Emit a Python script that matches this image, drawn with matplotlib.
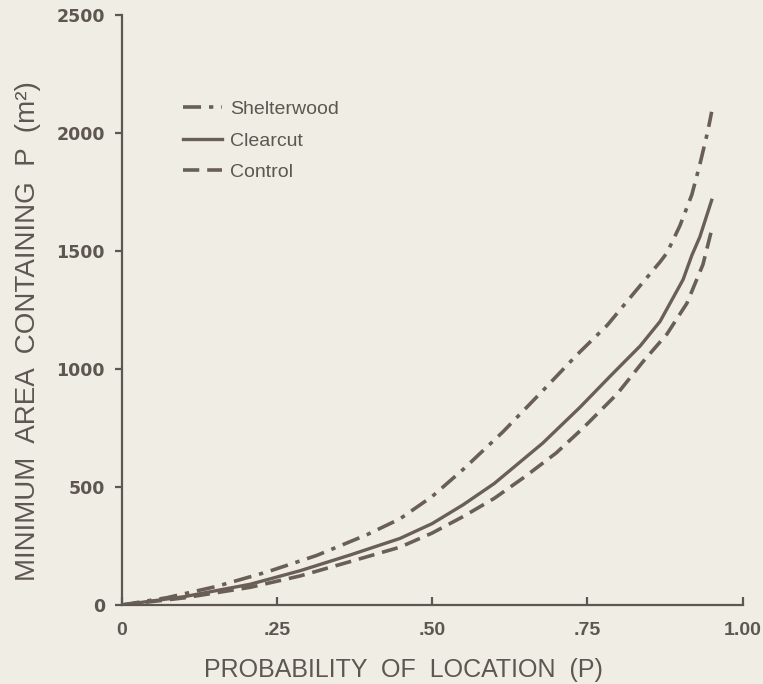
#!/usr/bin/env python3
"""
Minimum area containing P vs probability of location,
for shelterwood, clearcut and control sites.
Saves: out.png
"""

import matplotlib
matplotlib.use("Agg")
import matplotlib.pyplot as plt

# ── data ──────────────────────────────────────────────────────────────────
P_SHELTER = [0, 0.073, 0.153, 0.234, 0.314, 0.395, 0.448, 0.50, 0.55, 0.614,
             0.678, 0.733, 0.782, 0.823, 0.867, 0.878, 0.899, 0.918, 0.931,
             0.944, 0.95]
A_SHELTER = [0, 31, 79, 140, 210, 298, 365, 460, 575, 734,
             908, 1060, 1186, 1316, 1454, 1492, 1608, 1738, 1867,
             2010, 2090]

P_CLEAR = [0, 0.10, 0.207, 0.287, 0.368, 0.448, 0.50, 0.55, 0.60, 0.678,
           0.738, 0.786, 0.835, 0.867, 0.904, 0.918, 0.931, 0.95]
A_CLEAR = [0, 35, 88, 145, 212, 282, 345, 425, 515, 686,
           838, 968, 1098, 1202, 1379, 1481, 1560, 1715]

P_CONTROL = [0, 0.10, 0.207, 0.287, 0.368, 0.448, 0.50, 0.55, 0.60, 0.65,
             0.70, 0.743, 0.798, 0.840, 0.878, 0.910, 0.936, 0.95]
A_CONTROL = [0, 30, 75, 123, 184, 245, 305, 375, 452, 545,
             645, 750, 895, 1033, 1148, 1278, 1443, 1590]

X_TICKS = [0, 0.25, 0.50, 0.75, 1.00]
X_TICK_LABELS = ["0", ".25", ".50", ".75", "1.00"]
Y_TICKS = [0, 500, 1000, 1500, 2000, 2500]

BG_COLOR   = "#f0eee4"
INK        = "#5e5650"
LINE_COLOR = "#6a5f56"
FONT       = "Liberation Sans"

plt.rcParams["font.family"] = [FONT, "DejaVu Sans"]

fig = plt.figure(figsize=(7.63, 6.84), dpi=100, facecolor=BG_COLOR)
ax = fig.add_axes([0.1595, 0.1155, 0.8139, 0.8625])
ax.set_facecolor(BG_COLOR)

ax.plot(P_SHELTER, A_SHELTER, color=LINE_COLOR, linewidth=2.6,
        dashes=(5, 2.2, 1.2, 2.2), label="Shelterwood")
ax.plot(P_CLEAR, A_CLEAR, color=LINE_COLOR, linewidth=2.4,
        linestyle="-", label="Clearcut")
ax.plot(P_CONTROL, A_CONTROL, color=LINE_COLOR, linewidth=2.6,
        dashes=(4.5, 2.2), label="Control")

ax.set_xlim(0, 1.0)
ax.set_ylim(0, 2500)

for side in ("top", "right"):
    ax.spines[side].set_visible(False)
for side in ("left", "bottom"):
    ax.spines[side].set_color(INK)
    ax.spines[side].set_linewidth(1.6)

ax.set_xticks(X_TICKS)
ax.set_xticklabels(X_TICK_LABELS)
ax.set_yticks(Y_TICKS)
ax.tick_params(axis="x", direction="in", length=6, width=1.6, color=INK,
               pad=12, labelsize=14, labelcolor=INK)
ax.tick_params(axis="y", direction="out", length=5, width=1.6, color=INK,
               pad=7, labelsize=12.5, labelcolor=INK)
for lbl in ax.get_xticklabels():
    lbl.set_fontweight("bold")
for lbl in ax.get_yticklabels():
    lbl.set_fontweight("bold")
    lbl.set_family("DejaVu Sans")

leg = ax.legend(loc="center left", bbox_to_anchor=(0.099, 0.787),
                frameon=False, fontsize=14, handlelength=2.0,
                handletextpad=0.4, labelspacing=0.7, borderpad=0,
                borderaxespad=0)
for txt in leg.get_texts():
    txt.set_color(INK)

fig.text(28 / 763, 1 - 331 / 684, "MINIMUM  AREA  CONTAINING  P  (m²)",
         rotation=90, ha="center", va="center", fontsize=20, color=INK)
fig.text(403 / 763, 1 - 670 / 684, "PROBABILITY  OF  LOCATION  (P)",
         ha="center", va="center", fontsize=18, color=INK)

plt.savefig("out.png", dpi=100, facecolor=BG_COLOR)
plt.close()
